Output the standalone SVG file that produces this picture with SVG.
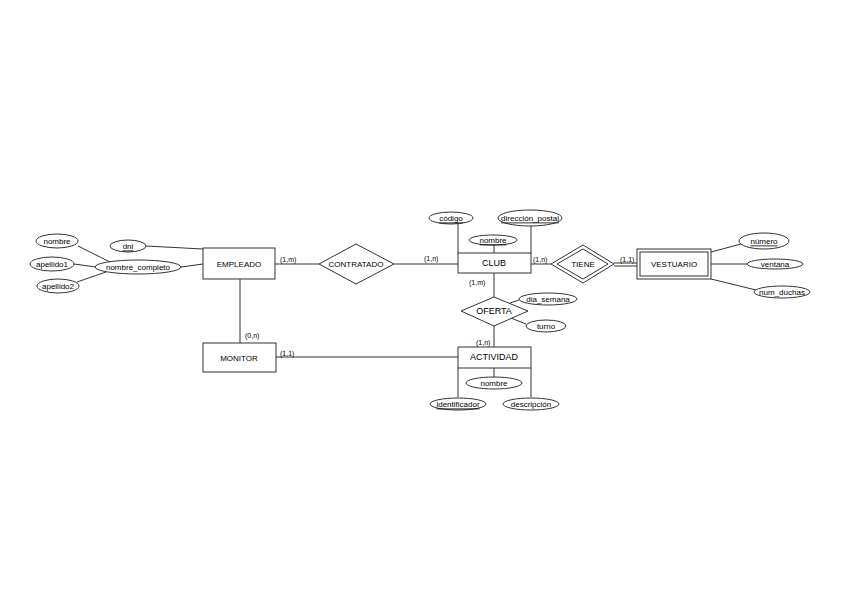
<svg xmlns="http://www.w3.org/2000/svg" width="848" height="602" viewBox="0 0 848 602">
<style>
.s{fill:#fff;stroke:#333;stroke-width:1}
.l{stroke:#333;stroke-width:1;fill:none}
text{font-family:"Liberation Sans",Arial,sans-serif;font-size:8px;fill:#000;text-anchor:middle;dominant-baseline:central}
.c{font-size:7px;text-anchor:start}
.u{text-decoration:underline}
</style>
<rect width="848" height="602" fill="#fff"/>
<g id="connectors">
<line class="l" x1="78" y1="246" x2="110" y2="262"/>
<line class="l" x1="74" y1="264" x2="96" y2="267"/>
<line class="l" x1="77" y1="282" x2="106" y2="272"/>
<line class="l" x1="181" y1="267" x2="203" y2="264"/>
<line class="l" x1="146" y1="246" x2="203" y2="249"/>
<line class="l" x1="275" y1="264" x2="319" y2="264"/>
<line class="l" x1="394" y1="264" x2="458" y2="264"/>
<line class="l" x1="240" y1="279" x2="240" y2="343"/>
<line class="l" x1="276" y1="357" x2="458" y2="357"/>
<line class="l" x1="458" y1="224" x2="458" y2="253"/>
<line class="l" x1="531" y1="226" x2="531" y2="253"/>
<line class="l" x1="494" y1="245" x2="494" y2="253"/>
<line class="l" x1="531" y1="264" x2="551" y2="264"/>
<line class="l" x1="614" y1="263" x2="637" y2="263"/>
<line class="l" x1="614" y1="266" x2="637" y2="266"/>
<line class="l" x1="494" y1="273" x2="494" y2="297"/>
<line class="l" x1="494" y1="326" x2="494" y2="347"/>
<line class="l" x1="510" y1="303" x2="519" y2="300"/>
<line class="l" x1="511" y1="318" x2="526" y2="324"/>
<line class="l" x1="711" y1="252" x2="741" y2="244"/>
<line class="l" x1="711" y1="264" x2="747" y2="264"/>
<line class="l" x1="711" y1="279" x2="756" y2="290"/>
<line class="l" x1="458" y1="368" x2="458" y2="397"/>
<line class="l" x1="531" y1="368" x2="531" y2="397"/>
<line class="l" x1="494" y1="368" x2="494" y2="377"/>
<text class="c" x="280" y="259">(1,m)</text>
<text class="c" x="424" y="258">(1,n)</text>
<text class="c" x="533" y="259">(1,n)</text>
<text class="c" x="620" y="259">(1,1)</text>
<text class="c" x="469" y="282">(1,m)</text>
<text class="c" x="476" y="342">(1,n)</text>
<text class="c" x="245" y="335">(0,n)</text>
<text class="c" x="280" y="353">(1,1)</text>
</g>
<g id="empleado"><rect class="s" x="203" y="248" width="72" height="31"/><text x="239" y="264">EMPLEADO</text></g>
<g id="monitor"><rect class="s" x="203" y="343" width="73" height="29"/><text x="239" y="358">MONITOR</text></g>
<g id="club"><rect class="s" x="458" y="253" width="73" height="20"/><text x="494" y="263" style="font-size:9px">CLUB</text></g>
<g id="actividad"><rect class="s" x="458" y="347" width="73" height="21"/><text x="494" y="357" style="font-size:9px">ACTIVIDAD</text></g>
<g id="vestuario"><rect class="s" x="637" y="249" width="74" height="30"/><rect class="s" x="640" y="252" width="68" height="24"/><text x="674" y="264">VESTUARIO</text></g>
<g id="contratado"><polygon class="s" points="356,244 394,264 356,284 319,264"/><text x="356" y="264">CONTRATADO</text></g>
<g id="tiene"><polygon class="s" points="583,245 614,264 583,283 551,264"/><polygon class="s" points="583,249 608,264 583,279 557,264"/><text x="583" y="264">TIENE</text></g>
<g id="oferta"><polygon class="s" points="494,297 528,311 494,326 461,311"/><text x="494" y="311" style="font-size:9px">OFERTA</text></g>
<g id="attr-nombre-emp"><ellipse class="s" cx="57" cy="241" rx="21" ry="7"/><text x="57" y="241">nombre</text></g>
<g id="attr-apellido1"><ellipse class="s" cx="52" cy="264" rx="22" ry="7"/><text x="52" y="264">apellido1</text></g>
<g id="attr-apellido2"><ellipse class="s" cx="58" cy="286" rx="21" ry="7"/><text x="58" y="286">apellido2</text></g>
<g id="attr-nombre-completo"><ellipse class="s" cx="138" cy="267" rx="43" ry="7"/><text x="138" y="267">nombre_completo</text></g>
<g id="attr-dni"><ellipse class="s" cx="128" cy="246" rx="18" ry="6"/><text class="u" x="128" y="246">dni</text></g>
<g id="attr-codigo"><ellipse class="s" cx="451" cy="218" rx="22" ry="6"/><text class="u" x="451" y="218">código</text></g>
<g id="attr-direccion"><ellipse class="s" cx="530" cy="218" rx="32" ry="8"/><text class="u" x="530" y="218">dirección_postal</text></g>
<g id="attr-nombre-club"><ellipse class="s" cx="493" cy="240" rx="24" ry="5"/><text class="u" x="493" y="240">nombre</text></g>
<g id="attr-numero"><ellipse class="s" cx="764" cy="241" rx="25" ry="8"/><text class="u" x="764" y="241" style="text-decoration-style:dashed">número</text></g>
<g id="attr-ventana"><ellipse class="s" cx="775" cy="264" rx="28" ry="5"/><text x="775" y="264">ventana</text></g>
<g id="attr-num-duchas"><ellipse class="s" cx="782" cy="292" rx="28" ry="6"/><text x="782" y="292">num_duchas</text></g>
<g id="attr-dia-semana"><ellipse class="s" cx="548" cy="299" rx="29" ry="6"/><text x="548" y="299">dia_semana</text></g>
<g id="attr-turno"><ellipse class="s" cx="546" cy="326" rx="20" ry="6"/><text x="546" y="326">turno</text></g>
<g id="attr-nombre-act"><ellipse class="s" cx="494" cy="383" rx="28" ry="6"/><text x="494" y="383">nombre</text></g>
<g id="attr-identificador"><ellipse class="s" cx="458" cy="404" rx="28" ry="6"/><text class="u" x="458" y="404">identificador</text></g>
<g id="attr-descripcion"><ellipse class="s" cx="531" cy="404" rx="28" ry="6"/><text x="531" y="404">descripción</text></g>
</svg>
